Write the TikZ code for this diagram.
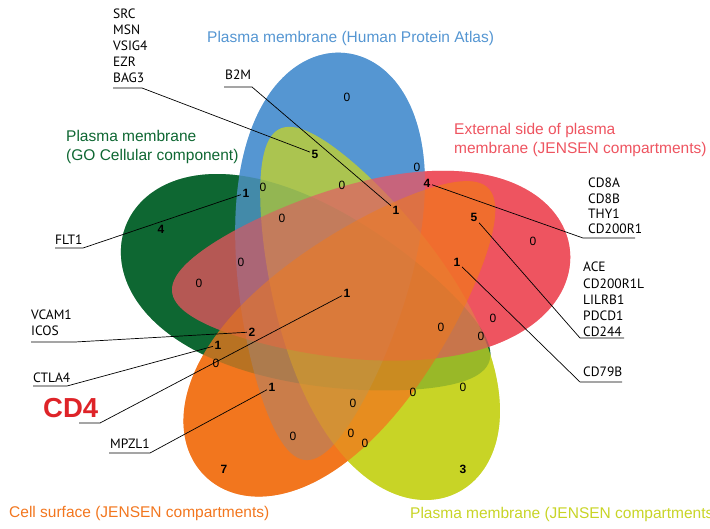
\documentclass[tikz,border=0pt]{standalone}
\usepackage{fontspec}
\setmainfont{Liberation Sans}
\newfontfamily\genefont{PT Sans}
\usetikzlibrary{calc}

\definecolor{hpablue}{RGB}{85,150,210}
\definecolor{gogreen}{RGB}{14,103,50}
\definecolor{extred}{RGB}{238,84,96}
\definecolor{cellorange}{RGB}{242,118,30}
\definecolor{pmyellow}{RGB}{200,212,38}
\definecolor{cdred}{RGB}{222,35,40}

\begin{document}
\begin{tikzpicture}[x=1bp, y=-1bp,
    title/.style={anchor=west, align=left, inner sep=0pt, font=\fontsize{15.5bp}{19bp}\selectfont},
    cnt/.style={inner sep=1.5pt, font=\fontsize{12bp}{14bp}\selectfont},
    hit/.style={cnt, font=\fontsize{12bp}{14bp}\selectfont\bfseries},
    gene/.style={anchor=north west, align=left, inner sep=0pt, font=\genefont\fontsize{13.5bp}{16bp}\selectfont},
    lead/.style={black, line width=0.7pt}]
    \useasboundingbox (0,0) rectangle (710,529);

    % five egg-shaped sets (centre x/y, axis angle, half length), opaque first, then blended
    \foreach \op in {1,0.5}
      \foreach \mx/\my/\ang/\len/\col in {307.2/294.5/159.63/194/gogreen, 325/256.5/84.4/204.5/hpablue,
          368/311/-64.1/202.4/pmyellow, 371/271/6/200/extred, 346.5/332/225.5/201.9/cellorange}
        \fill[\col, fill opacity=\op, shift={(\mx,\my)}, rotate=\ang]
          plot[domain=0:360, samples=120, smooth] ({\len*cos(\x)}, {90*sin(\x)*(1+0.3*cos(\x))}) -- cycle;

    % set titles
    \node[title, text=hpablue] (hpa) at (207,38) {Plasma membrane (Human Protein Atlas)};
    \node[title, text=gogreen] (go) at (66,147) {Plasma membrane\\(GO Cellular component)};
    \node[title, text=extred] (ext) at (454,140) {External side of plasma\\membrane (JENSEN compartments)};
    \node[title, text=cellorange] (cell) at (9,513) {Cell surface (JENSEN compartments)};
    \node[title, text=pmyellow] (jen) at (410,514) {Plasma membrane (JENSEN compartments};

    % counts
    \node[cnt] (hpa_only) at (347,97) {0};
    \node[hit] (hpa_jen) at (315,154) {5};
    \node[cnt] (ext_only) at (533,241) {0};
    \node[cnt] (hpa_ext) at (417,167) {0};
    \node[hit] (hpa_ext_cell) at (427,183) {4};
    \node[hit] (ext_cell) at (474,217) {5};
    \node[hit] (hpa_jen_ext_cell) at (396,210) {1};
    \node[cnt] (c08) at (342,185) {0};
    \node[cnt] (c09) at (263,187) {0};
    \node[hit] (go_hpa) at (246,193) {1};
    \node[hit] (go_only) at (161,229) {4};
    \node[cnt] (c12) at (282,218) {0};
    \node[cnt] (c13) at (241,262) {0};
    \node[cnt] (c14) at (199,283) {0};
    \node[hit] (jen_ext_cell) at (457,262) {1};
    \node[hit] (all_five) at (347,293) {1};
    \node[hit] (go_ext_cell) at (252,332) {2};
    \node[hit] (go_ext) at (218,345) {1};
    \node[cnt] (c19) at (216,363) {0};
    \node[hit] (go_cell) at (272,387) {1};
    \node[hit] (cell_only) at (224,469) {7};
    \node[cnt] (c22) at (293,436) {0};
    \node[cnt] (c23) at (351,433) {0};
    \node[cnt] (c24) at (365,443) {0};
    \node[cnt] (c25) at (353,403) {0};
    \node[cnt] (c26) at (413,392) {0};
    \node[cnt] (c27) at (463,387) {0};
    \node[hit] (jen_only) at (463,469) {3};
    \node[cnt] (c29) at (441,327) {0};
    \node[cnt] (c30) at (493,318) {0};
    \node[cnt] (c31) at (481,336) {0};

    % gene lists
    \node[gene] (src) at (113,9) {SRC\\MSN\\VSIG4\\EZR\\BAG3};
    \node[gene] (b2m) at (225,70) {B2M};
    \node[gene] (flt1) at (55,235) {FLT1};
    \node[gene, font=\genefont\fontsize{13.5bp}{15.3bp}\selectfont] (cd8a) at (588,178) {CD8A\\CD8B\\THY1\\CD200R1};
    \node[gene, font=\genefont\fontsize{13.5bp}{16.2bp}\selectfont] (ace) at (583,262) {ACE\\CD200R1L\\LILRB1\\PDCD1\\CD244};
    \node[gene] (cd79b) at (583,367) {CD79B};
    \node[gene] (vcam1) at (31,310) {VCAM1\\ICOS};
    \node[gene] (ctla4) at (33,373) {CTLA4};
    \node[anchor=west, inner sep=0pt, text=cdred, font=\fontsize{27.5bp}{30bp}\selectfont\bfseries] (cd4) at (43,408) {CD4};
    \node[gene] (mpzl1) at (110,439) {MPZL1};

    % underline ends
    \coordinate (src_a) at (113,88);  \coordinate (src_b) at (142,88);
    \coordinate (b2m_a) at (224,87);  \coordinate (b2m_b) at (252,87);
    \coordinate (flt1_a) at (55,248); \coordinate (flt1_b) at (83,248);
    \coordinate (cd8a_a) at (635,238); \coordinate (cd8a_b) at (583,238);
    \coordinate (ace_a) at (624,338); \coordinate (ace_b) at (580,338);
    \coordinate (cd79b_a) at (622,382); \coordinate (cd79b_b) at (580,382);
    \coordinate (vcam1_a) at (31,342); \coordinate (vcam1_b) at (75,342);
    \coordinate (ctla4_a) at (33,386); \coordinate (ctla4_b) at (67,386);
    \coordinate (cd4_a) at (79,423); \coordinate (cd4_b) at (100,423);
    \coordinate (mpzl1_a) at (109,453); \coordinate (mpzl1_b) at (150,453);

    \draw[lead]
    (src_a) -- (src_b) -- (hpa_jen)
    (b2m_a) -- (b2m_b) -- (hpa_jen_ext_cell)
    (flt1_a) -- (flt1_b) -- (go_hpa)
    (cd8a_a) -- (cd8a_b) -- (hpa_ext_cell)
    (ace_a) -- (ace_b) -- (ext_cell)
    (cd79b_a) -- (cd79b_b) -- (jen_ext_cell)
    (vcam1_a) -- (vcam1_b) -- (go_ext_cell)
    (ctla4_a) -- (ctla4_b) -- (go_ext)
    (cd4_a) -- (cd4_b) -- (all_five)
    (mpzl1_a) -- (mpzl1_b) -- (go_cell);

\end{tikzpicture}
\end{document}
